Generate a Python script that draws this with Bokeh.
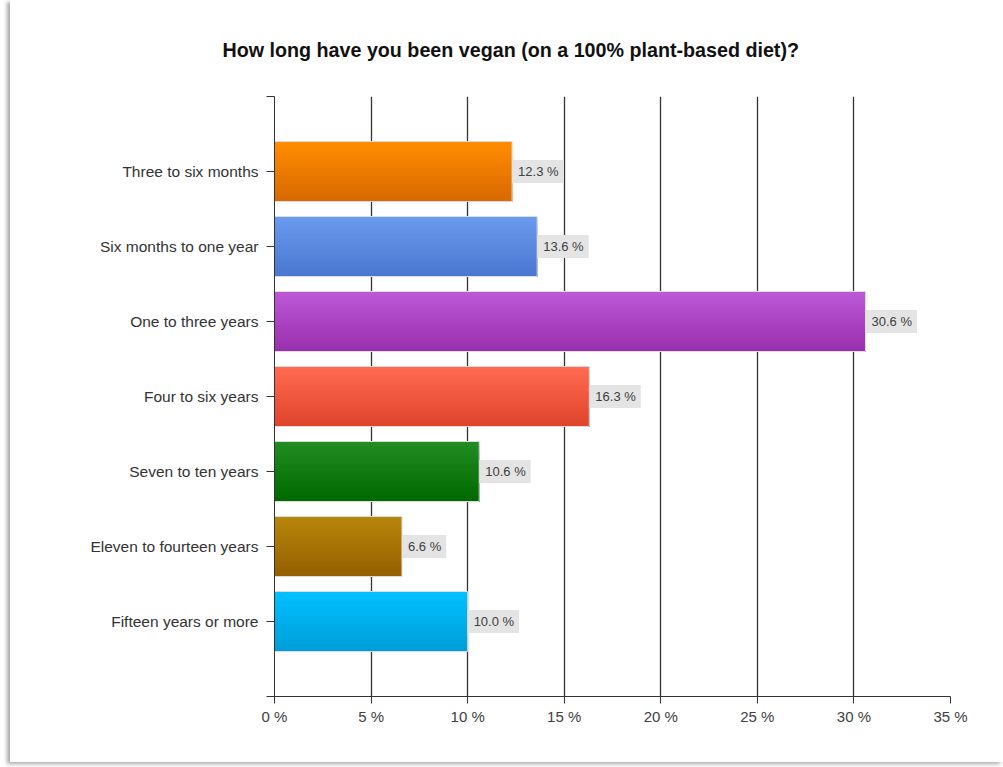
from bokeh.plotting import figure
from bokeh.models import Range1d, FixedTicker, Title, ColumnDataSource
from bokeh.embed import file_html
from bokeh.resources import INLINE
from bokeh.core.properties import value

title_text = "How long have you been vegan (on a 100% plant-based diet)?"
categories = ["Three to six months", "Six months to one year", "One to three years",
              "Four to six years", "Seven to ten years", "Eleven to fourteen years",
              "Fifteen years or more"]
values = [12.3, 13.6, 30.6, 16.3, 10.6, 6.6, 10.0]
top_colors = ["#FF8C00", "#6A9AEE", "#BC58D6", "#FF6A50", "#228B22", "#B8860B", "#00C0FF"]
bottom_colors = ["#D86A00", "#4A77D0", "#9A30AE", "#E0452C", "#006A00", "#946000", "#009ED8"]
x_ticks = [0, 5, 10, 15, 20, 25, 30, 35]

n = len(categories)
positions = [n - i for i in range(n)]
bar_h = 0.8

p = figure(width=993, height=762, output_backend="svg", toolbar_location=None,
           x_range=Range1d(0, 35), y_range=Range1d(0, n + 1),
           min_border_left=264, min_border_right=53, min_border_top=96, min_border_bottom=66,
           background_fill_color="white", border_fill_color="white",
           margin=(0, 0, 0, 10),
           styles={"box-shadow": "-3px 2px 4px #a8a8a8"})
p.outline_line_color = None

t = Title(text=title_text, text_font="Liberation Sans", text_font_size="19.7px",
          text_font_style="bold", text_color="#111111", align="left", offset=-52, standoff=72)
p.add_layout(t, "above")


def hexrgb(h):
    h = h.lstrip("#")
    return tuple(int(h[i:i + 2], 16) for i in (0, 2, 4))


# gradient bars: overlapping strips, each reaching down to the bar bottom
N = 24
ys, hs, cs, rs = [], [], [], []
for pos, v, c1, c2 in zip(positions, values, top_colors, bottom_colors):
    a = hexrgb(c1)
    b = hexrgb(c2)
    bottom = pos - bar_h / 2
    for k in range(N):
        f = k / (N - 1)
        col = "#%02x%02x%02x" % tuple(int(round(a[j] + (b[j] - a[j]) * f)) for j in range(3))
        ytop = pos + bar_h / 2 - k * bar_h / N
        ys.append((ytop + bottom) / 2)
        hs.append(ytop - bottom)
        rs.append(v)
        cs.append(col)
src = ColumnDataSource(dict(y=ys, right=rs, h=hs, c=cs))
p.hbar(y="y", right="right", left=0, height="h", fill_color="c", line_color=None, source=src)
p.hbar(y=positions, right=values, left=0, height=bar_h, fill_color=None,
       line_color="#dcdcdc", line_width=1)

labels = ["%.1f %%" % v for v in values]
p.text(x=values, y=positions, text=labels, x_offset=0, text_align="left", text_baseline="middle",
       text_font=value("Liberation Sans"), text_font_size="13px", text_color="#404040",
       background_fill_color="#e4e4e4", padding=dict(left=6, right=5, top=4, bottom=4))

# axes
p.xaxis.ticker = FixedTicker(ticks=x_ticks)
p.xaxis.major_label_overrides = {tv: "%d %%" % tv for tv in x_ticks}
p.xaxis.major_label_text_font = "Liberation Sans"
p.xaxis.major_label_text_font_size = "15px"
p.xaxis.major_label_text_color = "#404040"
p.xaxis.axis_line_color = "#333333"
p.xaxis.major_tick_line_color = "#333333"
p.xaxis.major_tick_out = 7
p.xaxis.major_tick_in = 0
p.xaxis.minor_tick_line_color = None
p.xaxis.major_label_standoff = 4

p.yaxis.ticker = FixedTicker(ticks=list(range(0, n + 2)))
ov = {pos: cat for pos, cat in zip(positions, categories)}
ov[0] = ""
ov[n + 1] = ""
p.yaxis.major_label_overrides = ov
p.yaxis.major_label_text_font = "Liberation Sans"
p.yaxis.major_label_text_font_size = "15.5px"
p.yaxis.major_label_text_color = "#333333"
p.yaxis.axis_line_color = "#333333"
p.yaxis.major_tick_line_color = "#333333"
p.yaxis.major_tick_out = 8
p.yaxis.major_tick_in = 0
p.yaxis.minor_tick_line_color = None
p.yaxis.major_label_standoff = 8

p.ygrid.grid_line_color = None
p.xgrid.ticker = FixedTicker(ticks=x_ticks)
p.xgrid.grid_line_color = "#333333"
p.xgrid.grid_line_width = 1.3

open("out.html", "w").write(file_html(p, INLINE))
